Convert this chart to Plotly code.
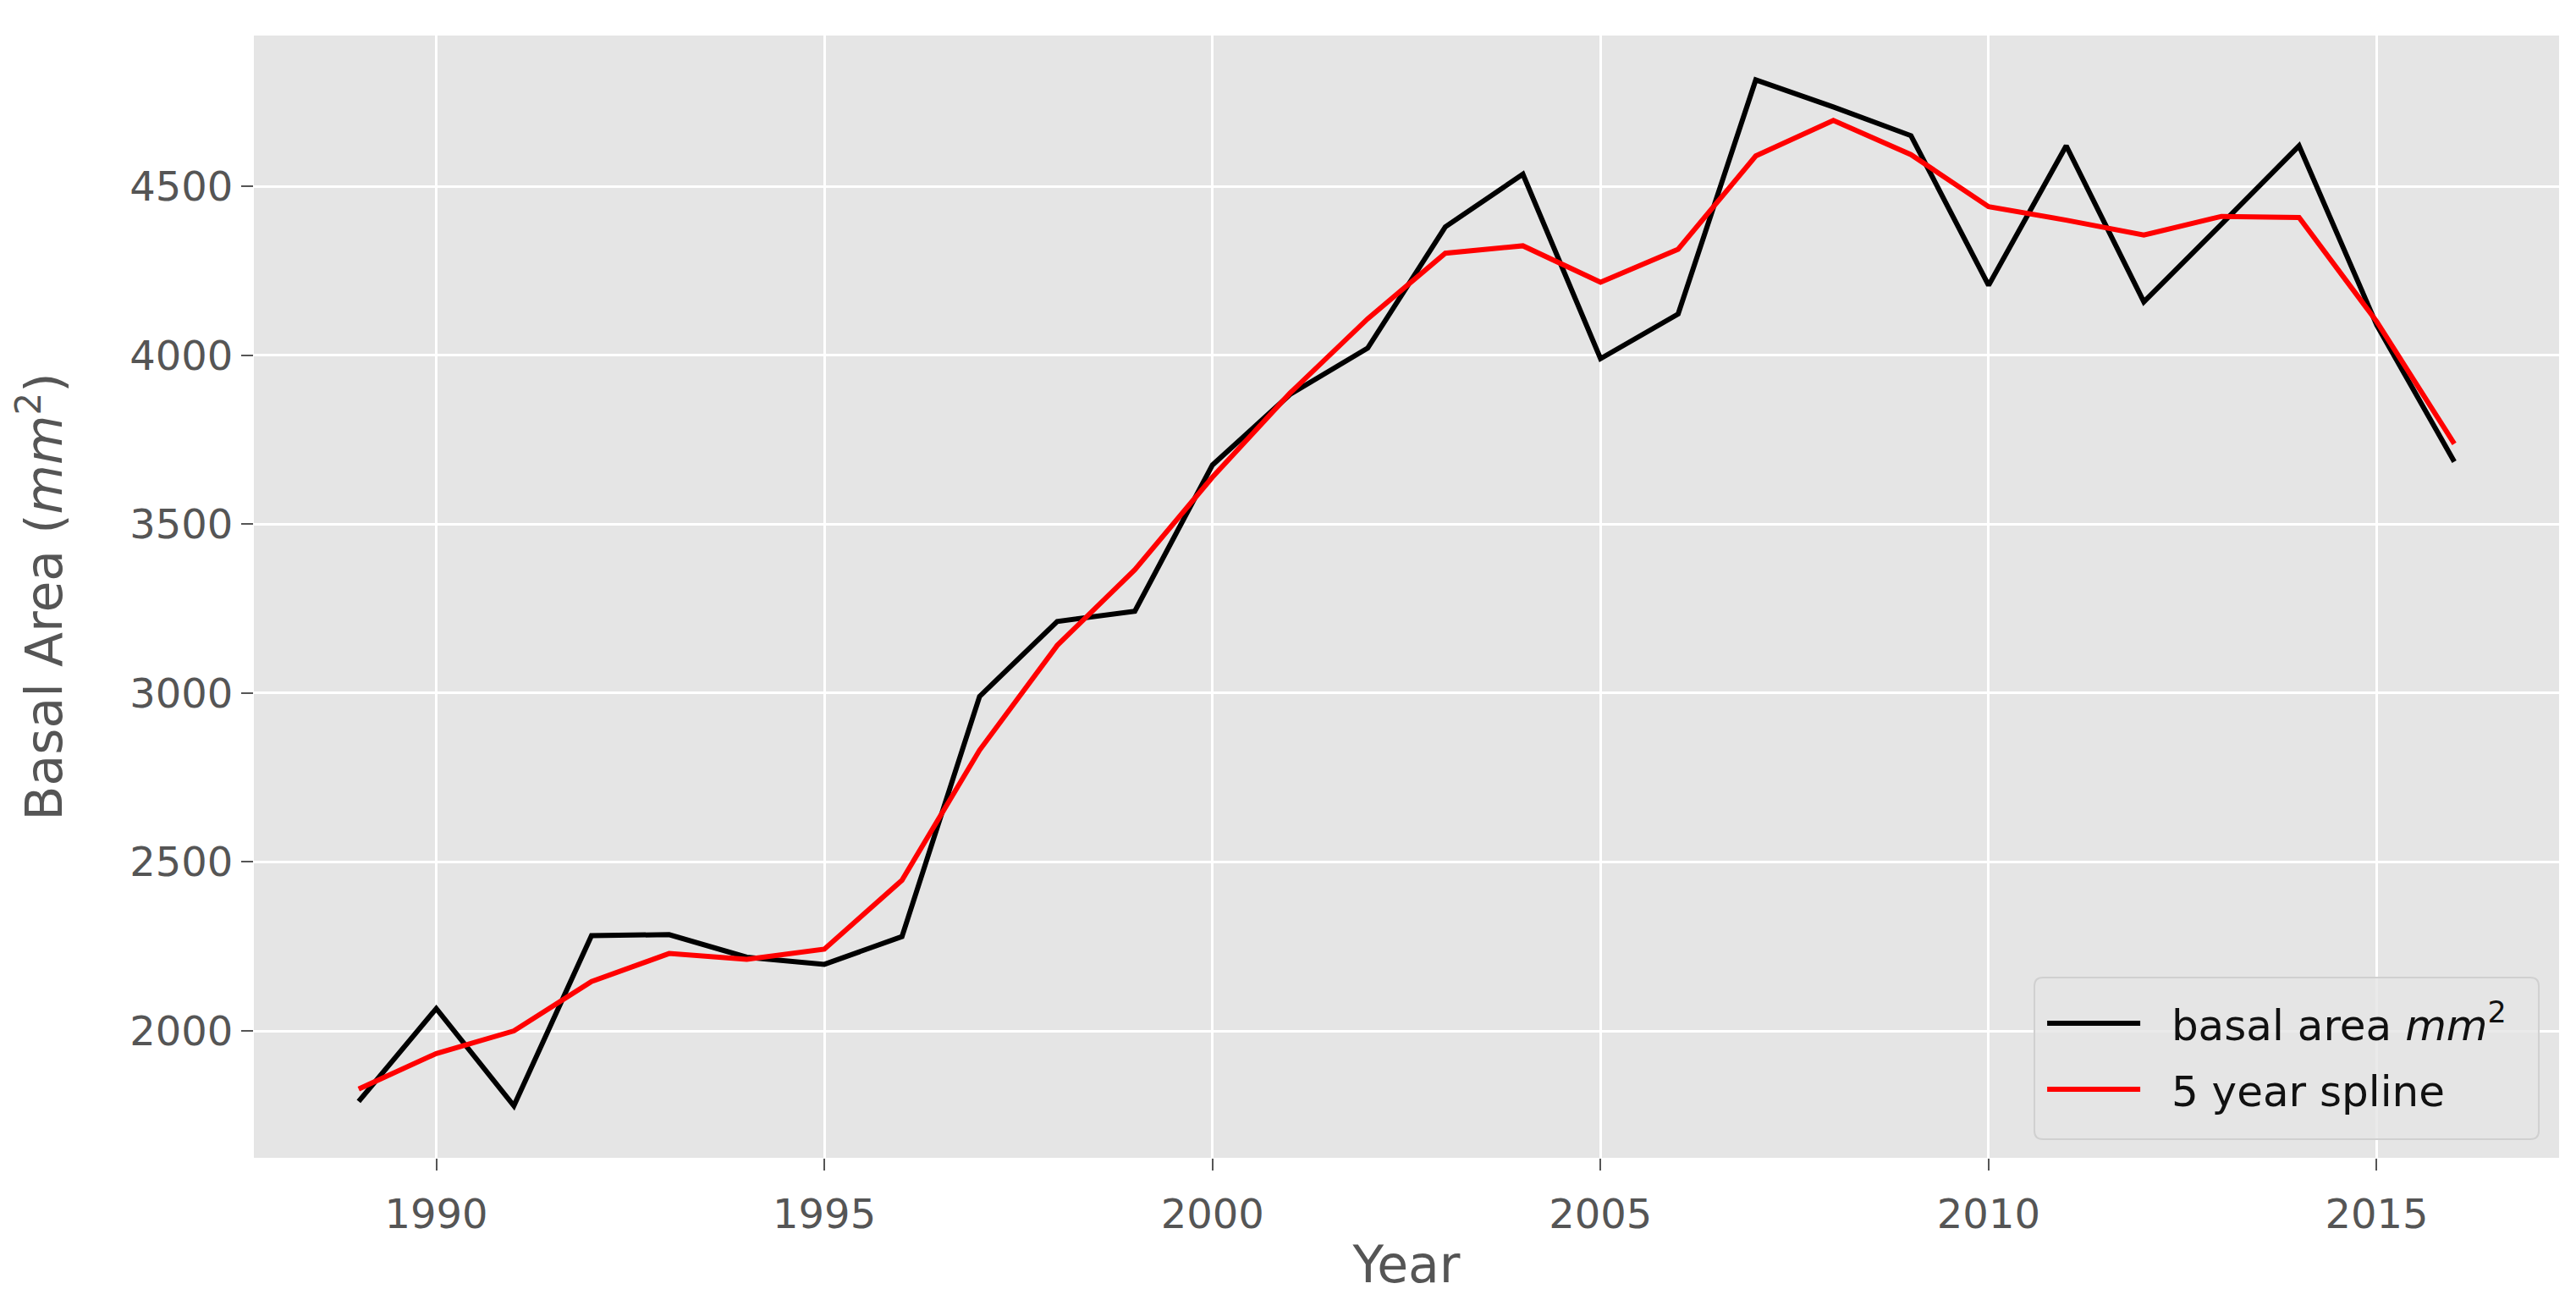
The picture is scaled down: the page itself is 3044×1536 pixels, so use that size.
import plotly.graph_objects as go

years = list(range(1989, 2017))
basal_area = [1791, 2066, 1778, 2282, 2285, 2218, 2197, 2279, 2990, 3212,
              3242, 3675, 3884, 4021, 4380, 4536, 3990, 4122, 4815, 4735,
              4650, 4207, 4620, 4158, 4388, 4620, 4090, 3685]
spline_5yr = [1828, 1933, 2000, 2146, 2229, 2212, 2242, 2446, 2831, 3141,
              3365, 3639, 3888, 4108, 4302, 4324, 4216, 4314, 4590, 4695,
              4594, 4440, 4400, 4356, 4411, 4408, 4100, 3738]
x_ticks = [1990, 1995, 2000, 2005, 2010, 2015]
y_ticks = [2000, 2500, 3000, 3500, 4000, 4500]

FONT = "DejaVu Sans"
TICK_COLOR = "#555555"
SP = "\u00a0\u00a0"

fig = go.Figure()
fig.add_trace(go.Scatter(x=years, y=basal_area, mode="lines",
                         name=SP + "basal area <i>mm</i><sup>2</sup>",
                         legendgroup="a",
                         line=dict(color="#000000", width=6)))
fig.add_trace(go.Scatter(x=years, y=spline_5yr, mode="lines",
                         name=SP + "5 year spline",
                         legendgroup="b",
                         line=dict(color="#FF0000", width=6)))

axis_common = dict(
    showgrid=True, gridcolor="#FFFFFF", gridwidth=3,
    zeroline=False, showline=False,
    ticks="outside", ticklen=14, tickwidth=2, tickcolor=TICK_COLOR,
    tickfont=dict(family=FONT, size=48, color=TICK_COLOR),
    automargin=False,
)

# legend frame (rounded box, paper coordinates)
W, H = 3044 - 292 - 28, 1536 - 34 - 176
bx0, bx1, by0, by1 = 0.7724, 0.9912, 0.0166, 0.1606
rx, ry = 10 / W, 10 / H
frame = (f"M{bx0+rx},{by0} L{bx1-rx},{by0} Q{bx1},{by0} {bx1},{by0+ry} "
         f"L{bx1},{by1-ry} Q{bx1},{by1} {bx1-rx},{by1} "
         f"L{bx0+rx},{by1} Q{bx0},{by1} {bx0},{by1-ry} "
         f"L{bx0},{by0+ry} Q{bx0},{by0} {bx0+rx},{by0} Z")

fig.update_layout(
    width=3044, height=1536,
    paper_bgcolor="#FFFFFF", plot_bgcolor="#E5E5E5",
    margin=dict(l=292, r=28, t=34, b=176),
    font=dict(family=FONT, color=TICK_COLOR),
    xaxis=dict(range=[1987.65, 2017.35], tickvals=x_ticks,
               ticklabelstandoff=10,
               title=dict(text="Year", font=dict(family=FONT, size=60, color=TICK_COLOR),
                          standoff=12),
               **axis_common),
    yaxis=dict(range=[1624.2, 4946.4], tickvals=y_ticks,
               title=dict(text="Basal Area (<i>mm</i><sup>2</sup>)",
                          font=dict(family=FONT, size=60, color=TICK_COLOR),
                          standoff=60),
               **axis_common),
    shapes=[dict(type="path", xref="paper", yref="paper", path=frame,
                 fillcolor="rgba(229,229,229,0.8)",
                 line=dict(color="#D0D0D0", width=2), layer="above")],
    legend=dict(
        x=0.7761, y=0.1493, xanchor="left", yanchor="top",
        bgcolor="rgba(0,0,0,0)", borderwidth=0,
        font=dict(family=FONT, size=50, color="#111111"),
        itemwidth=110,
        traceorder="grouped", tracegroupgap=10,
    ),
    showlegend=True,
)

fig.write_html("out.html")
